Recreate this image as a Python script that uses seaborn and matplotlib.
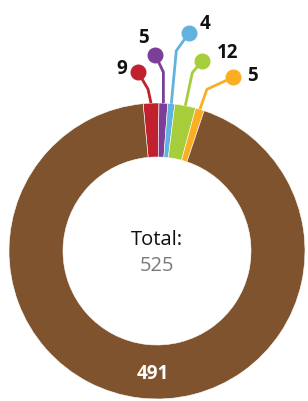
import matplotlib
matplotlib.use("Agg")
import matplotlib.pyplot as plt
import seaborn as sns
import numpy as np

# data
kategori = ["a", "b", "c", "d", "e", "f"]
nilai = [9, 5, 4, 12, 5, 491]
total = 525  # as printed in the chart
warna = ["#C1202F", "#7C3E97", "#62B2E0", "#A6CE3A", "#FBAE22", "#7F532E"]

sns.set_theme(style="white")
plt.rcParams["font.family"] = ["Open Sans", "DejaVu Sans"]

fig = plt.figure(figsize=(3.08, 4.01), dpi=100)
ax = fig.add_axes([0, 0, 1, 1])
R = 148.0  # outer radius in px

start = 95.4
wedges, _ = ax.pie(nilai, colors=sns.color_palette(warna), startangle=start,
                   counterclock=False, radius=1,
                   wedgeprops=dict(width=54 / R, edgecolor="#ffffff", linewidth=0.4))

ax.set_xlim(-157 / R, (308 - 157) / R)
ax.set_ylim(-150 / R, (401 - 150) / R)
ax.set_aspect("equal")
ax.axis("off")

# leader offsets (px): elbow dx, dy then circle dx, dy; label dx, dy
elbow = [(-3, 14), (0, 31), (5, 53), (7, 33), (7, 20)]
bulat = [(-10, 17), (-8, 17), (13, 18), (10, 12), (26, 12)]
teks = [(-16, 3), (-12, 17), (16, 9), (25, 8), (20, 1)]

for i, w in enumerate(wedges[:-1]):
    mid = np.deg2rad((w.theta1 + w.theta2) / 2)
    x0, y0 = np.cos(mid), np.sin(mid)
    x1, y1 = x0 + elbow[i][0] / R, y0 + elbow[i][1] / R
    x2, y2 = x1 + bulat[i][0] / R, y1 + bulat[i][1] / R
    ax.plot([x0, x1, x2], [y0, y1, y2], color=warna[i], lw=2, solid_capstyle="butt", zorder=1)
    ax.plot(x2, y2, "o", color=warna[i], markersize=10.5, zorder=2)
    ax.text(x2 + teks[i][0] / R, y2 + teks[i][1] / R, str(nilai[i]), ha="center", va="center",
            fontsize=13.5, fontweight="bold", color="#111111")

# big slice label
sudut = np.deg2rad(-92)
ax.text(0.83 * np.cos(sudut), 0.83 * np.sin(sudut), str(nilai[-1]), ha="center", va="center",
        fontsize=13.5, fontweight="bold", color="white")

ax.text(0, 11 / R, "Total:", ha="center", va="center", fontsize=14.5, color="#111111")
ax.text(0, -15 / R, str(total), ha="center", va="center", fontsize=14.5, color="#7a7a7a")

plt.savefig("out.png", dpi=100)
